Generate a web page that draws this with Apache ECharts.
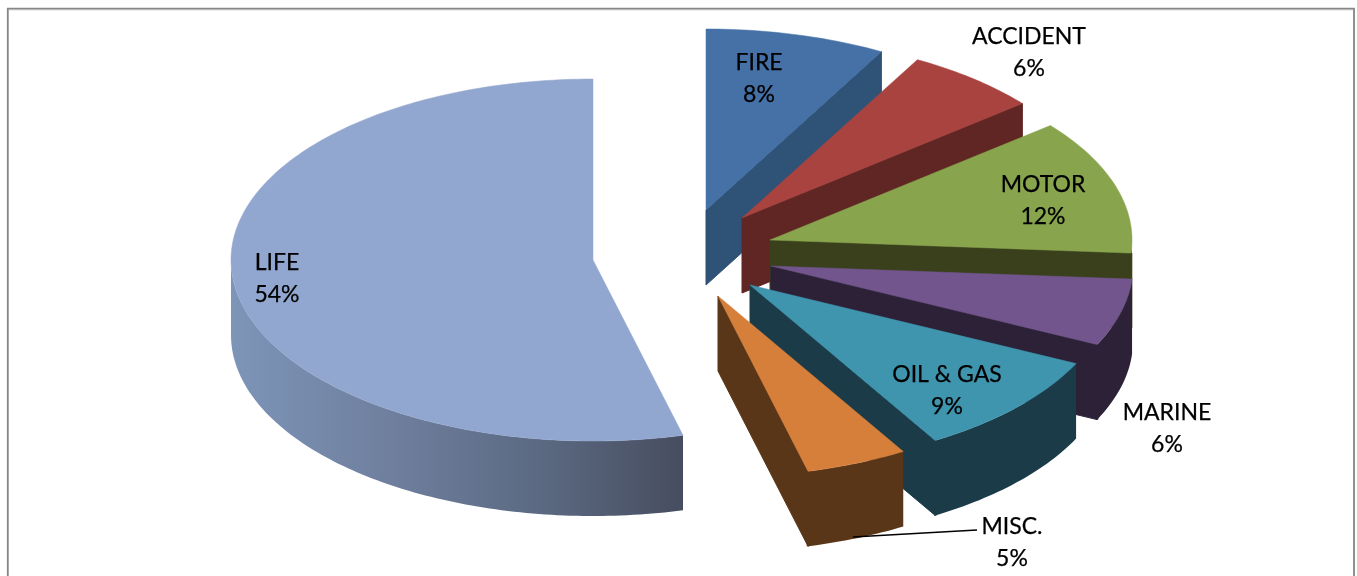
<!DOCTYPE html>
<html>
<head>
<meta charset="utf-8">
<style>html,body{margin:0;padding:0;background:#fff}#c{width:1357px;height:576px}</style>
<script src="https://cdn.jsdelivr.net/npm/echarts@6/dist/echarts.min.js"></script>
</head>
<body>
<div id="c"></div>
<script>
const categories = ['FIRE','ACCIDENT','MOTOR','MARINE','OIL & GAS','MISC.','LIFE'];
const shareValues = [8.05,6.05,12.05,6.0,9.3,4.55,54.0];

// styling and layout, separate from the data
const topColors  = ['#4571a6','#a8433f','#88a44d','#71558c','#3f94ae','#d67f3b','#92a7cf'];
const wallColors = ['#2f5277','#5f2624','#3a401c','#2c2137','#1a3b47','#5a3618',null];
const explode = [[113,-49.5],[149,-41.5],[177,-19.5],[178,6.5],[157,25.5],[125,36.5],[0,0.5]];
const labelAt = [[759,63],[1029,37],[1043,185],[1167,413],[947,375],[1012,527],[277,263]];
const CX = 593, CY = 259.5, RX = 362, RY = 181, DEPTH = 75;

const total = shareValues.reduce((a,b)=>a+b,0);
const rad = d => d*Math.PI/180;

function renderSlice(params, api){
  const i = params.dataIndex;
  let before = 0;
  for (let k=0;k<i;k++) before += shareValues[k];
  const a0 = before/total*360, a1 = (before+api.value(0))/total*360;
  const ox = CX+explode[i][0], oy = CY+explode[i][1];
  const P = (a,d)=>[ox+RX*Math.sin(rad(a)), oy-RY*Math.cos(rad(a))+(d||0)];
  const children = [];
  const poly = (points, fill, stroke, lw)=>children.push({type:'polygon',shape:{points},style:{fill,stroke,lineWidth:lw},silent:true});

  // outer wall: only the part of the rim on the near side
  const w0 = Math.max(a0,90), w1 = Math.min(a1,270);
  let wallFill = wallColors[i];
  if (wallFill === null) {
    wallFill = new echarts.graphic.LinearGradient(1,0,0,0,[
      {offset:0,color:'#474d60'},{offset:0.3,color:'#5a6880'},
      {offset:0.65,color:'#6f7f9e'},{offset:1,color:'#7d95b8'}]);
  }
  if (w1>w0){
    const up=[],down=[];
    for(let a=w0;a<w1;a+=1){up.push(P(a));down.push(P(a,DEPTH));}
    up.push(P(w1));down.push(P(w1,DEPTH));
    poly(up.concat(down.reverse()),wallFill,null,0);
  }
  // cut face along the trailing radius, seen only when it faces the viewer
  if (a1<180){
    poly([[ox,oy],P(a1),P(a1,DEPTH),[ox,oy+DEPTH]],wallFill,wallFill,1);
    if (w1>w0) {
      children.push({type:'polyline',shape:{points:[P(a1),P(a1,DEPTH)]},style:{stroke:wallFill,lineWidth:2.5,fill:null},silent:true});
    }
  }
  // top face
  const top=[[ox,oy]];
  for(let a=a0;a<a1;a+=1) top.push(P(a));
  top.push(P(a1));
  poly(top,topColors[i],topColors[i],0.5);

  if (categories[i]==='MISC.'){
    children.push({type:'polyline',shape:{points:[[853,537],[977,530]]},style:{stroke:'#000',lineWidth:1.4,fill:null},silent:true});
  }
  const name = categories[i], pct = Math.round(api.value(0))+'%';
  [name,pct].forEach((t,n)=>children.push({type:'text',silent:true,
    style:{text:t,x:labelAt[i][0],y:labelAt[i][1]+n*32,align:'center',verticalAlign:'middle',
      font:'23px Lato',fill:'#000',stroke:'#000',lineWidth:0.25}}));
  return {type:'group',children};
}

const chart = echarts.init(document.getElementById('c'),null,{renderer:'canvas'});
chart.setOption({
  animation:false,
  backgroundColor:'#fff',
  graphic:[
    {type:'polyline',shape:{points:[[9,10],[1353,10]]},style:{stroke:'#dcdcdc',lineWidth:1,fill:null},silent:true,z:0},
    {type:'polyline',shape:{points:[[7.8,576],[7.8,8.6],[1354,8.6],[1354,576]]},style:{stroke:'#868686',lineWidth:1.8,fill:null},silent:true,z:0}
  ],
  series:[{type:'custom',coordinateSystem:'none',renderItem:renderSlice,
    data:shareValues.map((v,i)=>({name:categories[i],value:[v]})),z:2}]
});
</script>
</body>
</html>
